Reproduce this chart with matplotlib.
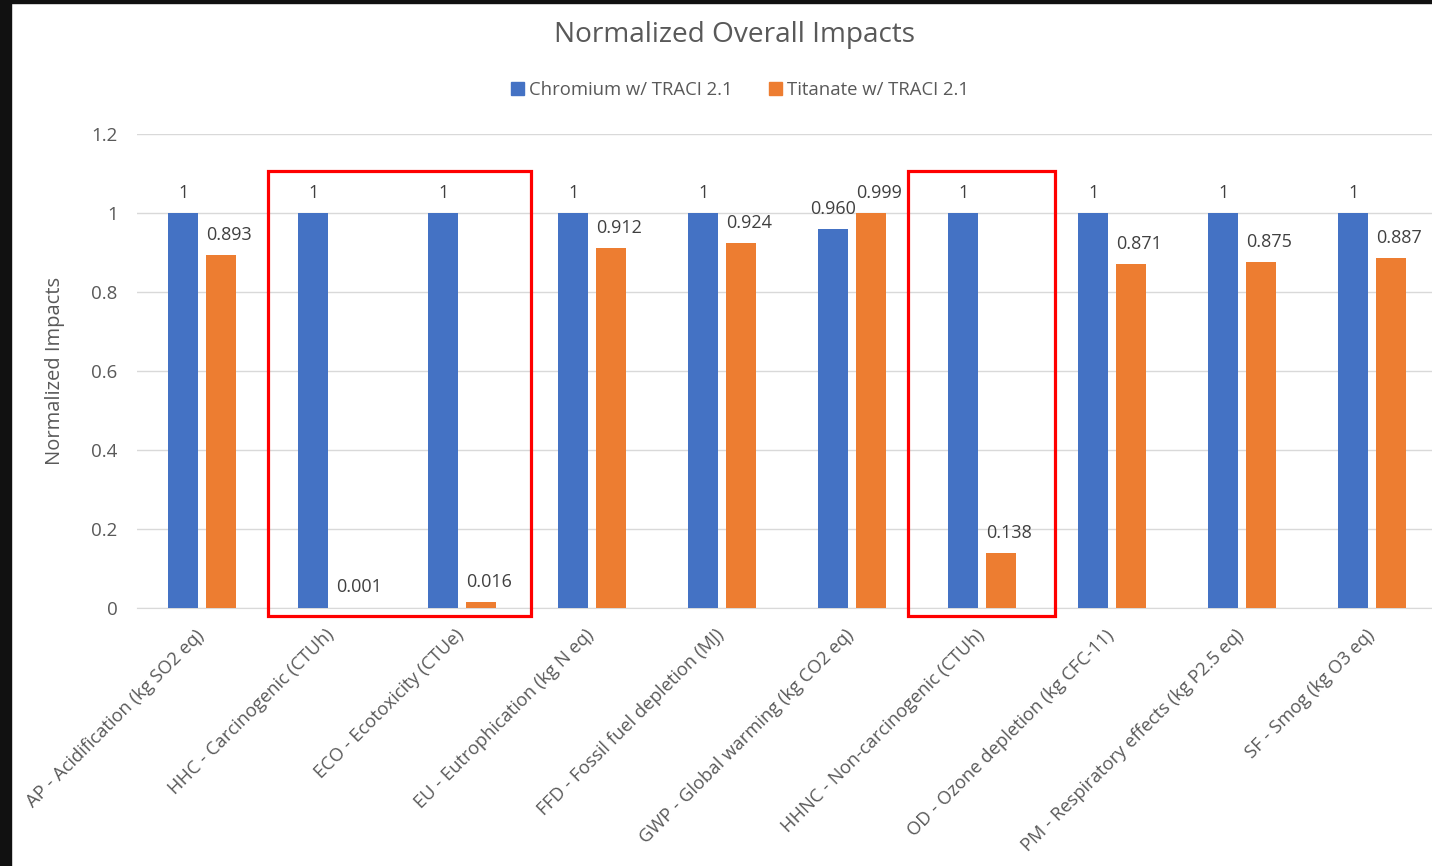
import numpy as np
import matplotlib
matplotlib.use("Agg")
from matplotlib import pyplot as plt
from matplotlib.patches import Rectangle
from matplotlib.transforms import ScaledTranslation

plt.rcParams['font.family'] = ['Open Sans', 'DejaVu Sans']

#### Datos
categorias = ["AP - Acidification (kg SO2 eq)",
              "HHC - Carcinogenic (CTUh)",
              "ECO - Ecotoxicity (CTUe)",
              "EU - Eutrophication (kg N eq)",
              "FFD - Fossil fuel depletion (MJ)",
              "GWP - Global warming (kg CO2 eq)",
              "HHNC - Non-carcinogenic (CTUh)",
              "OD - Ozone depletion (kg CFC-11)",
              "PM - Respiratory effects (kg P2.5 eq)",
              "SF - Smog (kg O3 eq)"]
chromium = [1, 1, 1, 1, 1, 0.960, 1, 1, 1, 1]
titanate = [0.893, 0.001, 0.016, 0.912, 0.924, 0.999, 0.138, 0.871, 0.875, 0.887]
etq_chromium = ["1", "1", "1", "1", "1", "0.960", "1", "1", "1", "1"]
etq_titanate = ["0.893", "0.001", "0.016", "0.912", "0.924", "0.999", "0.138", "0.871", "0.875", "0.887"]
yticks = [0, 0.2, 0.4, 0.6, 0.8, 1, 1.2]
ytick_labels = ["0", "0.2", "0.4", "0.6", "0.8", "1", "1.2"]
# grupos marcados con recuadro rojo
recuadros = [(1, 2), (6, 6)]

azul = '#4472C4'
naranja = '#ED7D31'
gris = '#595959'

W, H = 1432, 866
fig = plt.figure(figsize=(W/100, H/100), dpi=100)
fig.patch.set_facecolor('white')
ax = fig.add_axes([137/W, 258/H, 1295/W, 474/H])

ind = np.arange(len(categorias))
width = 0.23
off = 0.145
ax.bar(ind - off, chromium, width, color=azul, zorder=3)
ax.bar(ind + off, titanate, width, color=naranja, zorder=3)

for i in ind:
    ax.annotate(etq_chromium[i], (i - off, chromium[i]), xytext=(0, 8),
                textcoords='offset points', ha='center', va='bottom',
                fontsize=13, color='#404040')
    ax.annotate(etq_titanate[i], (i + off, titanate[i]), xytext=(6, 8),
                textcoords='offset points', ha='center', va='bottom',
                fontsize=13, color='#404040')

ax.set_xlim(-0.5, 9.5 - 5/130)
ax.set_ylim(0, 1.2)
ax.set_yticks(yticks)
ax.set_yticklabels(ytick_labels)
ax.grid(axis='y', color='#d9d9d9', lw=1, zorder=0)
for s in ['top', 'right', 'left']:
    ax.spines[s].set_visible(False)
ax.spines['bottom'].set_color('#d9d9d9')
ax.tick_params(axis='y', length=0, pad=14, labelsize=13.5, labelcolor=gris)
ax.tick_params(axis='x', length=0)
ax.set_xticks(ind)
ax.set_xticklabels(categorias, rotation=45, ha='right', va='top',
                   rotation_mode='anchor', fontsize=13.2, color=gris)
corrimiento = ScaledTranslation(-7/100, 0, fig.dpi_scale_trans)
for t in ax.get_xticklabels():
    t.set_transform(t.get_transform() + corrimiento)
    t.set_y(-0.028)
ax.set_ylabel('Normalized Impacts', fontsize=14.5, color=gris, labelpad=19)

### Recuadros rojos
for (a, b), (pl, pr) in zip(recuadros, [(0.49, 0.53), (0.57, 0.56)]):
    ax.add_patch(Rectangle((a - pl, -0.02), b - a + pl + pr, 1.126, fill=False,
                           ec='red', lw=2.3, clip_on=False, zorder=5))

fig.text(735/W, 1 - 35/H, 'Normalized Overall Impacts', ha='center', va='center',
         fontsize=20.2, color=gris)

h1 = Rectangle((0, 0), 1, 1, color=azul)
h2 = Rectangle((0, 0), 1, 1, color=naranja)
fig.legend([h1, h2], ['Chromium w/ TRACI 2.1', 'Titanate w/ TRACI 2.1'],
           loc='center', bbox_to_anchor=(740/W, 1 - 90/H), ncol=2, frameon=False,
           handlelength=0.7, handleheight=0.7, handletextpad=0.25, columnspacing=2.0,
           fontsize=13.3, labelcolor=gris)

### Borde negro
fig.patches.append(Rectangle((0, 0), 11/W, 1, transform=fig.transFigure,
                             color='#111111', zorder=10))
fig.patches.append(Rectangle((0, 1 - 3/H), 1, 3/H, transform=fig.transFigure,
                             color='#111111', zorder=10))

plt.savefig('out.png', dpi=100)
